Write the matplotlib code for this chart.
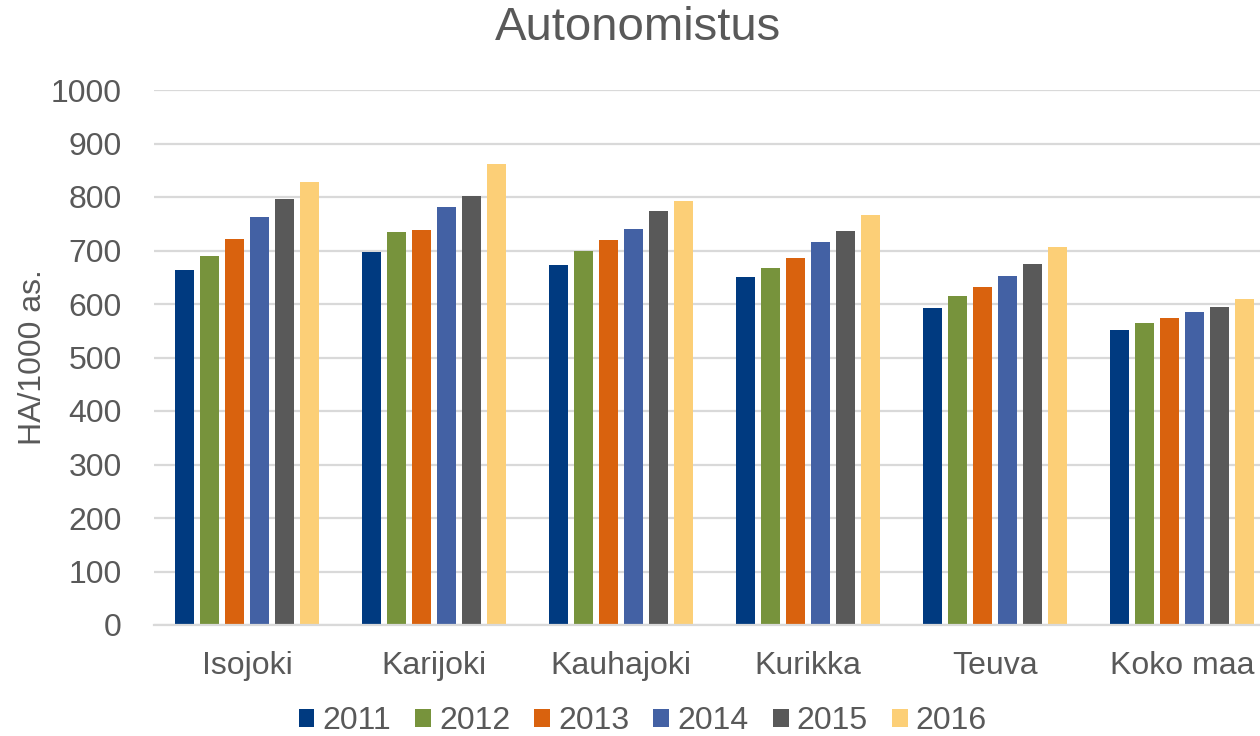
import numpy as np
import matplotlib.pyplot as plt

kunnat = ['Isojoki', 'Karijoki', 'Kauhajoki', 'Kurikka', 'Teuva', 'Koko maa']
vuodet = ['2011', '2012', '2013', '2014', '2015', '2016']
v2011 = [663, 697, 673, 650, 593, 551]
v2012 = [690, 735, 699, 667, 615, 564]
v2013 = [721, 738, 720, 686, 632, 574]
v2014 = [763, 781, 741, 716, 652, 585]
v2015 = [796, 802, 774, 736, 675, 594]
v2016 = [828, 862, 793, 766, 707, 609]
sarjat = [v2011, v2012, v2013, v2014, v2015, v2016]
varit = ['#003A80', '#77933C', '#D9620E', '#4361A4', '#595959', '#FCCF77']

plt.rcParams['font.family'] = ['Liberation Sans', 'DejaVu Sans']

fig = plt.figure(figsize=(12.6, 7.36), dpi=100)
# plot area runs past the right edge like in the original
ax = fig.add_axes([153.5/1260, 1-625/736, 1122/1260, 535/736])

x = np.arange(len(kunnat))
slot = 0.134
for i, (vals, c) in enumerate(zip(sarjat, varit)):
    ax.bar(x + (i - 2.5)*slot, vals, width=0.105, color=c, label=vuodet[i], zorder=3)

ax.set_xlim(-0.5, len(kunnat)-0.5)
ax.set_ylim(0, 1000)
ax.set_yticks(range(0, 1001, 100))
ax.set_xticks(x)
ax.set_xticklabels(kunnat)
ax.tick_params(axis='both', length=0, labelsize=23, colors='#595959')
ax.tick_params(axis='y', pad=23)
ax.tick_params(axis='x', pad=19)
ax.grid(axis='y', color='#D9D9D9', linewidth=1.6, zorder=0)
for s in ['top', 'right', 'left']:
    ax.spines[s].set_visible(False)
ax.spines['bottom'].set_color('#D9D9D9')
ax.spines['bottom'].set_linewidth(1.6)
ax.spines['bottom'].set_zorder(4)

ax.set_ylabel('HA/1000 as.', fontsize=23, color='#595959', labelpad=2)
fig.text(0.506, 1-28/736, 'Autonomistus', fontsize=34, color='#595959', ha='center', va='center')

leg = fig.legend(loc='center', bbox_to_anchor=(0.51, 1-721/736), ncol=6, frameon=False,
                 fontsize=23, handlelength=0.5, handleheight=0.5, handletextpad=0.25,
                 columnspacing=0.75, labelcolor='#595959')

fig.savefig('out.png', dpi=100)
